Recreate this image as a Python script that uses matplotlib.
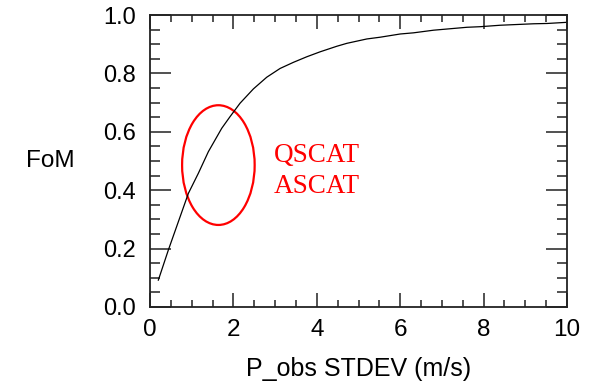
import matplotlib
matplotlib.use("Agg")
import matplotlib.pyplot as plt
from matplotlib.patches import Ellipse
from matplotlib.ticker import MultipleLocator

# data
stdev = [0.2, 0.44, 0.68, 0.92, 1.16, 1.40, 1.72, 1.92, 2.16, 2.48, 2.8, 3.12,
         3.44, 3.76, 4.08, 4.48, 4.72, 5.2, 5.52, 6.0, 6.32, 6.8, 7.12, 7.6,
         7.92, 8.4, 8.72, 9.2, 9.52, 10.0]
fom = [0.092, 0.195, 0.292, 0.389, 0.458, 0.532, 0.612, 0.652, 0.698, 0.747,
       0.787, 0.817, 0.838, 0.857, 0.874, 0.893, 0.903, 0.918, 0.924, 0.935,
       0.939, 0.948, 0.952, 0.958, 0.960, 0.965, 0.967, 0.970, 0.971, 0.975]
x_ticks = [0, 2, 4, 6, 8, 10]
y_ticks = [0.0, 0.2, 0.4, 0.6, 0.8, 1.0]
annot_lines = ["QSCAT", "ASCAT"]
ellipse_center = (1.64, 0.486)
ellipse_size = (1.74, 0.41)

plt.rcParams['font.family'] = ['Liberation Sans', 'DejaVu Sans']

fig = plt.figure(figsize=(5.99, 3.85), dpi=100)
ax = fig.add_axes([0.2504, 0.2026, 0.6962, 0.7584])

ax.plot(stdev, fom, color='black', lw=0.9)

ax.set_xlim(0, 10)
ax.set_ylim(0, 1.0)
ax.set_xticks(x_ticks)
ax.set_xticklabels([str(v) for v in x_ticks])
ax.set_yticks(y_ticks)
ax.set_yticklabels([f"{v:.1f}" for v in y_ticks])
ax.xaxis.set_minor_locator(MultipleLocator(0.5))
ax.yaxis.set_minor_locator(MultipleLocator(0.05))

ax.tick_params(axis='both', which='both', direction='in', top=True, right=True,
               color='#222222', width=1.1)
ax.tick_params(axis='x', which='major', length=10, labelsize=17.5, pad=9)
ax.tick_params(axis='x', which='minor', length=5)
ax.tick_params(axis='y', which='major', length=15, labelsize=17, pad=10)
ax.tick_params(axis='y', which='minor', length=7)

for s in ax.spines.values():
    s.set_linewidth(1.3)
    s.set_color('#222222')

ax.set_xlabel("P_obs STDEV (m/s)", fontsize=18, labelpad=11)
ax.set_ylabel("FoM", fontsize=17.5, rotation=0, va='center', ha='center')
ax.yaxis.set_label_coords(-0.24, 0.5)

ax.add_patch(Ellipse(ellipse_center, ellipse_size[0], ellipse_size[1],
                     fill=False, edgecolor='red', lw=1.6))

ax.text(2.97, 0.4976, annot_lines[0], color='red', fontsize=19.5,
        family=['Liberation Serif', 'DejaVu Serif'], va='baseline', ha='left')
ax.text(2.97, 0.389, annot_lines[1], color='red', fontsize=19.5,
        family=['Liberation Serif', 'DejaVu Serif'], va='baseline', ha='left')

fig.savefig("out.png", dpi=100)
